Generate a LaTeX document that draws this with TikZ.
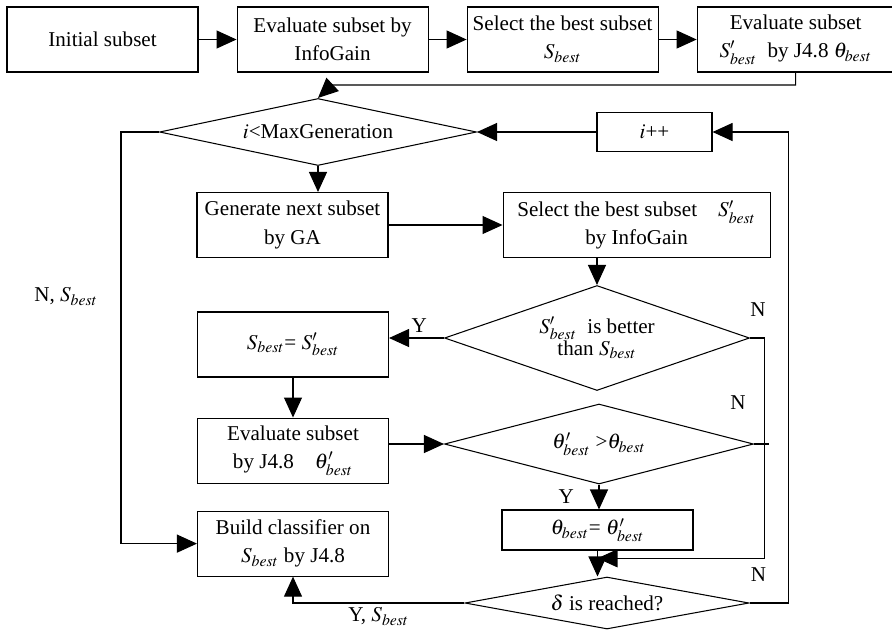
\documentclass[tikz,border=0pt]{standalone}
\usepackage{mathptmx}
\usepackage{fontspec}
\setmainfont{Liberation Serif}
\usetikzlibrary{arrows.meta,positioning,shapes.geometric,calc}
\tikzset{
  % Process box
  stepbox/.style={rectangle,draw,line width=0.6pt,inner sep=1pt,
    minimum width=3.82cm,minimum height=1.3cm,align=center,
    font=\fontsize{12}{16}\selectfont},
  % Decision diamond
  decbox/.style={diamond,draw,line width=0.6pt,inner sep=0pt,
    align=center,font=\fontsize{12}{14}\selectfont},
  % Arrows and lines
  arr/.style={-{Triangle[length=0.4cm,width=0.36cm]},line width=0.6pt},
  ln/.style={line width=0.6pt},
  lbl/.style={font=\fontsize{12}{14}\selectfont,inner sep=1pt},
}
\begin{document}
\begin{tikzpicture}[node distance=0.76cm]
  \useasboundingbox (0,0) rectangle (17.84,-12.58);
  % top row
  \node[stepbox] (init) at (2.05,-0.79) {Initial subset};
  \node[stepbox,right=of init] (evig) {Evaluate subset by\\InfoGain};
  \node[stepbox,right=of evig] (selfirst) {Select the best subset\\$S_{best}$};
  \node[stepbox,minimum width=3.94cm,right=of selfirst] (evjfirst)
    {Evaluate subset\\$S'_{best}$\enspace by J4.8 $\theta_{best}$};
  % GA loop
  \node[decbox,aspect=4.7,minimum width=6.34cm,minimum height=1.34cm] (maxgen)
    at (6.36,-2.64) {$i$<MaxGeneration};
  \node[stepbox,minimum width=2.3cm,minimum height=0.78cm] (inc)
    at (13.09,-2.64) {$i$++};
  \node[stepbox] (gen) at (5.85,-4.5) {Generate next subset\\by GA};
  \node[stepbox,minimum width=5.34cm,right=2.28cm of gen] (selga)
    {Select the best subset\quad$S'_{best}$\\by InfoGain};
  \node[decbox,aspect=2.9,minimum width=6.1cm,minimum height=2.1cm,
    font=\fontsize{12}{12.5}\selectfont] (better) at (11.94,-6.76)
    {$S'_{best}$\enspace is better\\than $S_{best}$};
  \node[stepbox] (upd) at (5.86,-6.89) {$S_{best}$= $S'_{best}$};
  \node[stepbox,below=0.8cm of upd] (evj) {Evaluate subset\\by J4.8\quad$\theta'_{best}$};
  \node[decbox,aspect=3.9,minimum width=6.18cm,minimum height=1.6cm] (gain)
    at (11.98,-8.88) {$\theta'_{best}$ >$\theta_{best}$};
  \node[stepbox,minimum height=0.8cm] (updt) at (11.95,-10.6)
    {$\theta_{best}$= $\theta'_{best}$};
  \node[stepbox,below=0.54cm of evj] (build) {Build classifier on\\$S_{best}$ by J4.8};
  \node[decbox,aspect=5.5,minimum width=5.68cm,minimum height=1.04cm] (delta)
    at (12.14,-12.06) {$\delta$ is reached?};

  \draw[arr] (init) -- (evig);
  \draw[arr] (evig) -- (selfirst);
  \draw[arr] (selfirst) -- (evjfirst);
  \draw[arr] (evjfirst.south) |- ([xshift=0.28cm,yshift=0.26cm]maxgen.north) -- (maxgen.north);
  \draw[arr] (maxgen.south) -- (maxgen.south |- gen.north);
  \draw[arr] (gen) -- (selga);
  \draw[arr] (better.north |- selga.south) -- (better.north);
  \draw[arr] (better.west) -- (better.west -| upd.east) node[lbl,pos=0.45,above=2pt] {Y};
  \draw[arr] (upd) -- (evj);
  \draw[arr] (evj.east |- gain.west) -- (gain.west);
  \draw[arr] (gain.south) -- (gain.south |- updt.north) node[lbl,pos=0.5,left=13pt] {Y};
  \coordinate (nj) at ($(updt.south)!0.3!(updt.south |- delta.north)$);
  \draw[arr] (updt.south) -- (updt.south |- delta.north);
  \draw[arr] (better.east) -- ++(0.28,0) node[lbl,above=0.38cm,xshift=-0.12cm] {N} |- (nj);
  \draw[ln] (gain.east) node[lbl,xshift=-0.32cm,yshift=0.82cm] {N} -- ++(0.3,0);
  \draw[arr] (delta.east) -- ++(0.78,0) node[lbl,above=0.38cm,xshift=-0.6cm] {N} |- (inc.east);
  \draw[arr] (inc) -- (maxgen.east);
  \draw[arr] (delta.west) -- (delta.west -| build.south)
    node[lbl,pos=0.5,below=0.05cm] {Y, $S_{best}$} -- (build.south);
  \draw[arr] (maxgen.west) -- ++(-0.76,0) coordinate (lc) -- (lc |- build.west)
    node[lbl,pos=0.4,left=0.42cm] {N, $S_{best}$} -- (build.west);
\end{tikzpicture}
\end{document}
